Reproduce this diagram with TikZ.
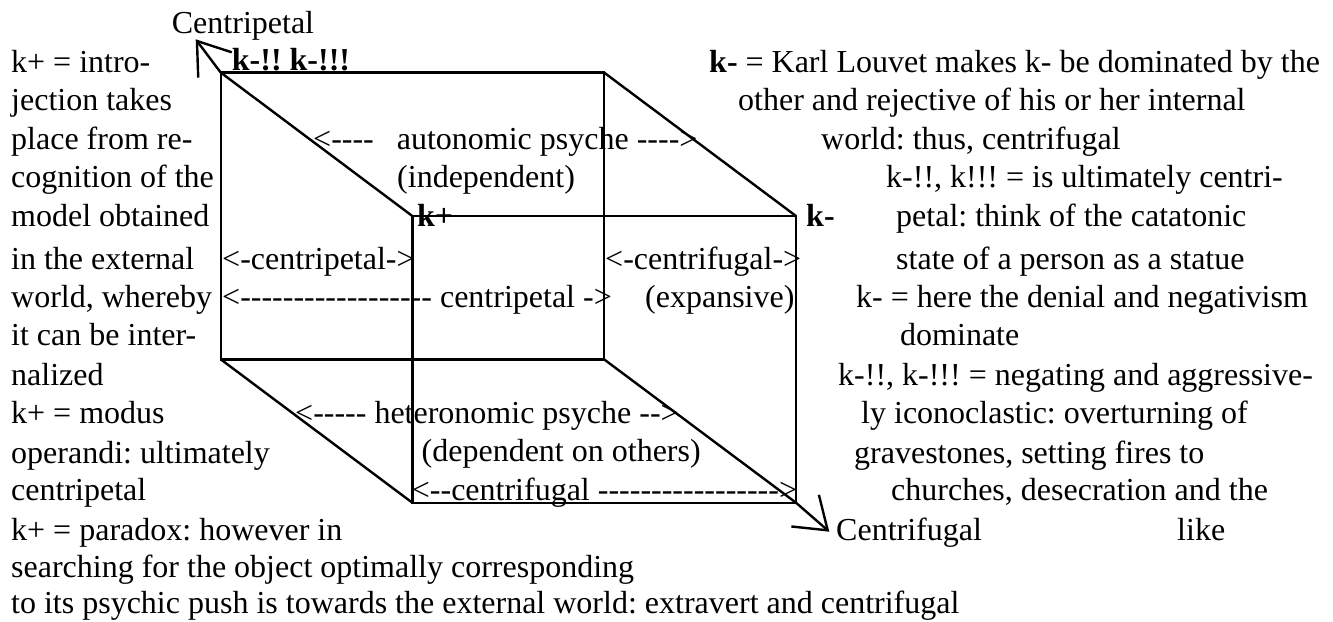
\documentclass[tikz,border=0pt]{standalone}
\usepackage{fontspec}
\setmainfont{Liberation Serif}[Ligatures=TeXOff]
\usetikzlibrary{arrows.meta}
\frenchspacing
\begin{document}
\begin{tikzpicture}[x=1pt, y=-1pt,
  lbl/.style={anchor=base west, inner sep=0pt, font=\fontsize{32}{38}\selectfont},
  edge/.style={line width=2.4pt, line join=miter},
  pointer/.style={line width=2.4pt, -{Straight Barb[length=30pt, width=42pt]}}]
\useasboundingbox (0,0) rectangle (1333,621);

% corners of the cube: back face and front face
\coordinate (bTL) at (220.7,72.5);
\coordinate (bTR) at (604,72.5);
\coordinate (bBL) at (220.7,359.3);
\coordinate (bBR) at (604,359.3);
\coordinate (fTL) at (412.3,216);
\coordinate (fTR) at (796,216);
\coordinate (fBL) at (412.3,502.7);
\coordinate (fBR) at (796,502.7);
\coordinate (cpTip) at (195.7,39.3);
\coordinate (cfTip) at (829.3,531.7);

% the cube
\draw[edge] (bTL) -- (bTR) -- (bBR) -- (bBL) -- cycle;
\draw[edge] (fTL) -- (fTR) -- (fBR) -- (fBL) -- cycle;
\draw[edge] (bTL) -- (fTL);
\draw[edge] (bTR) -- (fTR);
\draw[edge] (bBL) -- (fBL);
\draw[edge] (bBR) -- (fBR);

% the two outward pointers
\draw[pointer] (bTL) -- (cpTip);
\draw[pointer] (fBR) -- (cfTip);

% corner labels
\node[lbl] (cpLabel) at (171.7,33) {Centripetal};
\node[lbl] (cfLabel) at (836,540) {Centrifugal};
\node[lbl] (kTop) at (231.7,70.7) {\textbf{k-!! k-!!!}};
\node[lbl] (kPlus) at (417,226) {\textbf{k+}};
\node[lbl] (kMinus) at (806,226) {\textbf{k-}};

% labels inside the cube
\node[lbl] (auto) at (313,149) {<----\hspace{23pt}autonomic psyche ---->};
\node[lbl] (indep) at (397,187) {(independent)};
\node[lbl] (cpShort) at (222,269) {<-centripetal->};
\node[lbl] (cfShort) at (605,269) {<-centrifugal->};
\node[lbl] (cpLong) at (222,307) {<------------------ centripetal ->};
\node[lbl] (expans) at (645,307) {(expansive)};
\node[lbl] (hetero) at (295,423) {<----- heteronomic psyche -->};
\node[lbl] (depend) at (421.5,461) {(dependent on others)};
\node[lbl] (cfLong) at (411.7,500) {<--centrifugal ----------------->};

% left column
\node[lbl] (l1) at (11,72.5) {k+ = intro-};
\node[lbl] (l2) at (11,110) {jection takes};
\node[lbl] (l3) at (11,149) {place from re-};
\node[lbl] (l4) at (11,187) {cognition of the};
\node[lbl] (l5) at (11,226) {model obtained};
\node[lbl] (l6) at (11,269) {in the external};
\node[lbl] (l7) at (11,307) {world, whereby};
\node[lbl] (l8) at (11,345) {it can be inter-};
\node[lbl] (l9) at (11,385) {nalized};
\node[lbl] (l10) at (11,423) {k+ = modus};
\node[lbl] (l11) at (11,463) {operandi: ultimately};
\node[lbl] (l12) at (11,500) {centripetal};
\node[lbl] (l13) at (11,540) {k+ = paradox: however in};
\node[lbl] (l14) at (11,577) {searching for the object optimally corresponding};
\node[lbl] (l15) at (11,613) {to its psychic push is towards the external world: extravert and centrifugal};

% right column
\node[lbl] (r1) at (709,72.5) {\textbf{k-} = Karl Louvet makes k- be dominated by the};
\node[lbl] (r2) at (738,110) {other and rejective of his or her internal};
\node[lbl] (r3) at (821,149) {world: thus, centrifugal};
\node[lbl] (r4) at (886,187) {k-!!, k!!! = is ultimately centri-};
\node[lbl] (r5) at (896,226) {petal: think of the catatonic};
\node[lbl] (r6) at (896,269) {state of a person as a statue};
\node[lbl] (r7) at (856,307) {k- = here the denial and negativism};
\node[lbl] (r8) at (900,345) {dominate};
\node[lbl] (r9) at (838,385) {k-!!, k-!!! = negating and aggressive-};
\node[lbl] (r10) at (861,423) {ly iconoclastic: overturning of};
\node[lbl] (r11) at (854,463) {gravestones, setting fires to};
\node[lbl] (r12) at (891,500) {churches, desecration and the};
\node[lbl] (r13) at (1177,540) {like};
\end{tikzpicture}
\end{document}
